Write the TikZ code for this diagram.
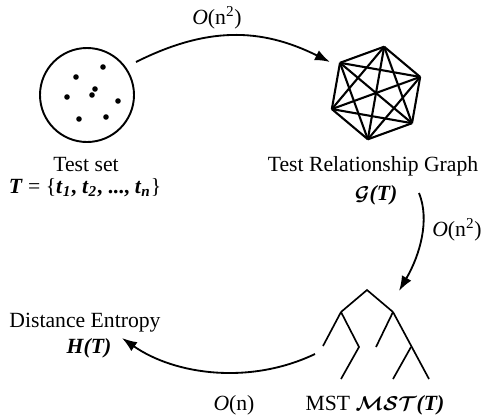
\documentclass[tikz,border=0pt]{standalone}
\usepackage{amsmath}
\usepackage{fontspec}
\setmainfont{Liberation Serif}
\usetikzlibrary{arrows.meta}

\tikzset{
  lbl/.style={anchor=base, inner sep=0pt, font=\fontsize{13}{15}\selectfont},
  flow/.style={-{Latex[length=9pt,width=6.5pt]}, line width=1.1pt},
  edge/.style={line width=1.25pt, line join=round},
  branch/.style={line width=1pt},
}

\begin{document}
\begin{tikzpicture}[x=0.6pt,y=-0.6pt]
\useasboundingbox (0,0) rectangle (487,417);

% test set
\node [draw, circle, line width=1.15pt, minimum size=56.4pt, inner sep=0pt] (setc) at (87,95) {};
\foreach \p in {(76,77),(103,67),(95,89),(92,95),(67,97),(118,101),(79,119),(106,117)}
  \fill \p circle (2.8);
\node [lbl] (setname) at (86,171) {Test set};
\node [lbl] (setdef) at (85,193) {\textbf{\textit{T}} = \{\textbf{\textit{t}\textsubscript{\textit{1}}, \textit{t}\textsubscript{\textit{2}}, ..., \textit{t}\textsubscript{\textit{n}}}\}};

% relationship graph (complete graph on 6 vertices)
\coordinate (gc) at (376,93);
\foreach \i in {1,...,6}
  \path (gc) ++(-20+60*\i:47) coordinate (v\i);
\foreach \i in {1,...,5}{
  \pgfmathtruncatemacro\nexti{\i+1}
  \foreach \j in {\nexti,...,6}
    \draw [edge] (v\i) -- (v\j);
}
\node [lbl] (gname) at (373,171) {Test Relationship Graph};
\node [lbl] (gdef) at (376,200) {$\boldsymbol{\mathcal{G}}$\textbf{\textit{(T)}}};

% minimum spanning tree
\coordinate (r0) at (367,290);
\coordinate (rl) at (341,312);
\coordinate (rr) at (393,312);
\draw [branch] (rl) -- (r0) -- (rr);
\draw [branch] (rl) -- (323,346);
\draw [branch] (rl) -- (359,347) -- (341,379);
\draw [branch] (rr) -- (376,347);
\draw [branch] (rr) -- (429,379);
\draw [branch] (411,347) -- (393,379);
\node [lbl] (mname) at (375,410) {MST $\boldsymbol{\mathcal{MST}}$\textbf{\textit{(T)}}};

% distance entropy
\node [lbl] (hname) at (85,327) {Distance Entropy};
\node [lbl] (hdef) at (89,353) {\textbf{\textit{H(T)}}};

% arrows
\coordinate (a1s) at (136,62);
\coordinate (a1e) at (330,62);
\draw [flow] (a1s) .. controls (206,27) and (260,27) .. (a1e);
\node [lbl] (c1) at (217,24) {\textit{O}(n\textsuperscript{2})};

\coordinate (a2s) at (419,193);
\coordinate (a2e) at (399,291);
\draw [flow] (a2s) .. controls (430,220) and (420,255) .. (a2e);
\node [lbl] (c2) at (457,236) {\textit{O}(n\textsuperscript{2})};

\coordinate (a3s) at (315,354);
\coordinate (a3e) at (122,338);
\draw [flow] (a3s) .. controls (250,385) and (175,375) .. (a3e);
\node [lbl] (c3) at (234,410) {\textit{O}(n)};

\end{tikzpicture}
\end{document}
